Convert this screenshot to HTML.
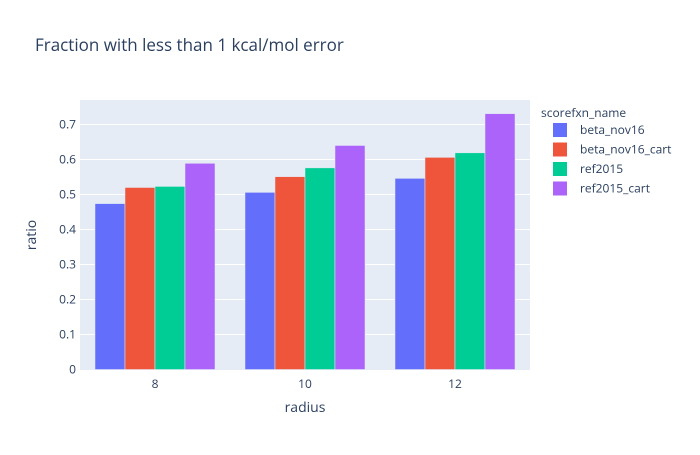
<!DOCTYPE html>
<html><head><meta charset="utf-8"><style>
body{margin:0;background:#fff;}
svg text{font-family:"Open Sans","Liberation Sans",Arial,sans-serif;fill:#2a3f5f;}
</style></head><body>
<svg id="chart" width="700" height="450" xmlns="http://www.w3.org/2000/svg">
<rect width="700" height="450" fill="#fff"/>
<text x="35" y="51" font-size="17">Fraction with less than 1 kcal/mol error</text>
<rect x="80" y="100" width="450" height="270" fill="#e5ecf6"/>
<g id="grid"></g>
<g id="bars"></g>
<g id="ticks"></g>
<text x="305" y="412" font-size="14" text-anchor="middle">radius</text>
<text transform="translate(36,235) rotate(-90)" font-size="14" text-anchor="middle">ratio</text>
<g id="legend"></g>
</svg>
<script>
const categories=["8","10","12"];
const seriesNames=["beta_nov16","beta_nov16_cart","ref2015","ref2015_cart"];
const beta_nov16=[0.474,0.506,0.546];
const beta_nov16_cart=[0.52,0.551,0.606];
const ref2015=[0.523,0.576,0.619];
const ref2015_cart=[0.589,0.64,0.731];
const yTicks=[0,0.1,0.2,0.3,0.4,0.5,0.6,0.7];
const yTickLabels=["0","0.1","0.2","0.3","0.4","0.5","0.6","0.7"];
const colors=["#636efa","#ef553b","#00cc96","#ab63fa"];
const series=[beta_nov16,beta_nov16_cart,ref2015,ref2015_cart];
const NS="http://www.w3.org/2000/svg";
const X0=80,W=450,Y0=369.5,YMAX=0.7714;
const yScale=v=>Y0-v/YMAX*270;
const band=W/categories.length;
const xCenter=i=>X0+band*(i+0.5);
function mk(tag,attrs,parent){const e=document.createElementNS(NS,tag);for(const k in attrs)e.setAttribute(k,attrs[k]);parent.appendChild(e);return e;}
const grid=document.getElementById('grid'),ticks=document.getElementById('ticks'),bars=document.getElementById('bars'),legend=document.getElementById('legend');
yTicks.forEach((t,i)=>{
  if(i>0){const l=mk('line',{x1:X0,x2:X0+W,y1:yScale(t),y2:yScale(t),stroke:'#fff','stroke-width':1},grid);
  
  }
  const tx=mk('text',{x:X0-4,y:yScale(t)+4,'font-size':12,'text-anchor':'end'},ticks);
  tx.textContent=yTickLabels[i];
  
  
});
categories.forEach((c,i)=>{
  const tx=mk('text',{x:xCenter(i),y:388,'font-size':12,'text-anchor':'middle'},ticks);
  tx.textContent=c;
  
  
  const gw=band*0.8,bw=gw/series.length;
  series.forEach((s,j)=>{
    const x=xCenter(i)-gw/2+j*bw,y=yScale(s[i]);
    const r=mk('rect',{x:x,y:y,width:bw,height:Y0-y,fill:colors[j],stroke:'#e5ecf6','stroke-width':0.5},bars);
    
    
  });
});
const lt=mk('text',{x:541,y:117,'font-size':12},legend);
lt.textContent='scorefxn_name';


seriesNames.forEach((n,j)=>{
  const y=130+j*19.5;
  const r=mk('rect',{x:553,y:y-7,width:14,height:14,fill:colors[j]},legend);
  
  
  const t=mk('text',{x:580,y:y+4,'font-size':12},legend);
  t.textContent=n;
  
  
});
</script>
</body></html>
